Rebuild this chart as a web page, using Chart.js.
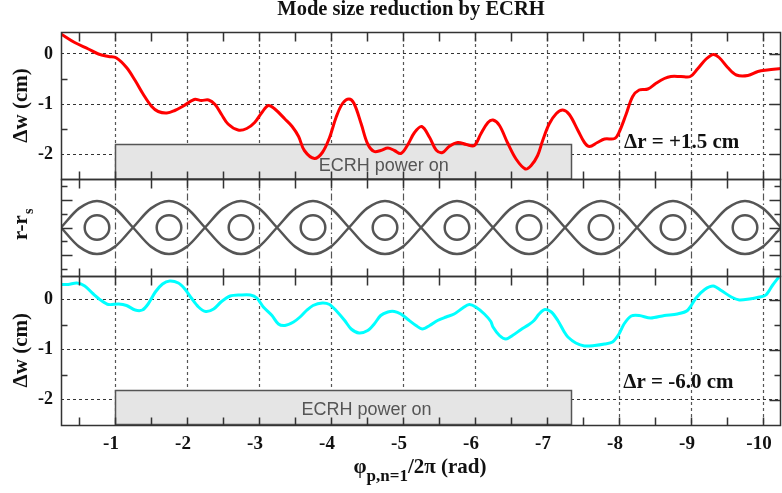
<!DOCTYPE html>
<html>
<head>
<meta charset="utf-8">
<title>Mode size reduction by ECRH</title>
<script src="https://cdn.jsdelivr.net/npm/chart.js@4.4.1/dist/chart.umd.min.js"></script>
<style>
  html, body { margin: 0; padding: 0; background: #fff; overflow: hidden; }
  #wrap { width: 782px; height: 493px; }
  canvas { display: block; }
</style>
</head>
<body>
<div id="wrap"><canvas id="chart" width="782" height="493"></canvas></div>
<script>
// toroidal phase (units of 2π) and island width change, Δr = +1.5 cm
const phaseTop = [-0.25, -0.44, -0.63, -0.77, -0.91, -1.02, -1.16, -1.28, -1.39, -1.51,
  -1.60, -1.72, -1.83, -1.95, -2.10, -2.20, -2.30, -2.39, -2.48, -2.57,
  -2.71, -2.83, -2.94, -3.04, -3.13, -3.22, -3.36, -3.46, -3.55, -3.63,
  -3.77, -3.88, -3.98, -4.07, -4.16, -4.25, -4.32, -4.42, -4.51, -4.60,
  -4.69, -4.79, -4.88, -4.97, -5.06, -5.16, -5.26, -5.37, -5.46, -5.55,
  -5.64, -5.76, -5.88, -5.99, -6.08, -6.18, -6.25, -6.34, -6.45, -6.57,
  -6.70, -6.78, -6.87, -6.94, -7.03, -7.13, -7.22, -7.31, -7.43, -7.52,
  -7.59, -7.70, -7.80, -7.94, -8.00, -8.10, -8.19, -8.28, -8.40, -8.51,
  -8.63, -8.72, -8.86, -8.99, -9.09, -9.21, -9.31, -9.39, -9.51, -9.63,
  -9.79, -9.93, -10.06, -10.25];
const dwTop = [0.40, 0.23, 0.10, 0.00, -0.05, -0.08, -0.27, -0.53, -0.80, -1.05,
  -1.15, -1.18, -1.13, -1.04, -0.91, -0.93, -0.92, -1.01, -1.21, -1.40,
  -1.52, -1.49, -1.37, -1.17, -1.03, -1.10, -1.30, -1.45, -1.65, -1.93,
  -2.09, -1.97, -1.67, -1.27, -0.99, -0.90, -0.99, -1.40, -1.80, -1.95,
  -1.93, -1.88, -1.93, -1.99, -1.83, -1.57, -1.45, -1.67, -1.92, -1.97,
  -1.85, -1.77, -1.81, -1.83, -1.60, -1.37, -1.32, -1.43, -1.77, -2.10,
  -2.30, -2.23, -2.03, -1.73, -1.40, -1.19, -1.12, -1.21, -1.53, -1.77,
  -1.85, -1.77, -1.70, -1.69, -1.57, -1.20, -0.85, -0.72, -0.70, -0.59,
  -0.49, -0.45, -0.45, -0.45, -0.30, -0.10, -0.01, -0.07, -0.27, -0.42,
  -0.43, -0.35, -0.32, -0.29];

// same for Δr = -6.0 cm
const phaseBottom = [-0.25, -0.35, -0.47, -0.58, -0.70, -0.81, -0.91, -1.05, -1.16, -1.28,
  -1.38, -1.46, -1.56, -1.66, -1.76, -1.88, -1.97, -2.06, -2.16, -2.26,
  -2.37, -2.48, -2.60, -2.74, -2.88, -2.97, -3.06, -3.18, -3.27, -3.36,
  -3.48, -3.57, -3.66, -3.75, -3.88, -3.98, -4.07, -4.19, -4.28, -4.39,
  -4.51, -4.60, -4.69, -4.79, -4.88, -4.97, -5.06, -5.18, -5.27, -5.37,
  -5.48, -5.60, -5.71, -5.83, -5.92, -6.01, -6.13, -6.22, -6.25, -6.34,
  -6.43, -6.52, -6.64, -6.75, -6.82, -6.89, -6.97, -7.06, -7.15, -7.24,
  -7.29, -7.40, -7.52, -7.66, -7.80, -7.91, -8.00, -8.07, -8.17, -8.28,
  -8.44, -8.63, -8.81, -8.95, -9.07, -9.19, -9.31, -9.42, -9.56, -9.67,
  -9.81, -9.95, -10.04, -10.13, -10.22];
const dwBottom = [0.30, 0.30, 0.33, 0.27, 0.11, -0.02, -0.10, -0.09, -0.12, -0.21,
  -0.21, -0.09, 0.15, 0.31, 0.37, 0.33, 0.21, 0.03, -0.15, -0.24,
  -0.19, -0.04, 0.07, 0.09, 0.09, 0.03, -0.15, -0.32, -0.49, -0.52,
  -0.45, -0.35, -0.22, -0.12, -0.07, -0.10, -0.22, -0.42, -0.59, -0.67,
  -0.62, -0.49, -0.32, -0.25, -0.24, -0.29, -0.39, -0.52, -0.59, -0.52,
  -0.42, -0.35, -0.29, -0.17, -0.10, -0.15, -0.29, -0.44, -0.55, -0.72,
  -0.79, -0.72, -0.60, -0.50, -0.42, -0.29, -0.20, -0.25, -0.42, -0.65,
  -0.75, -0.87, -0.93, -0.92, -0.89, -0.85, -0.69, -0.49, -0.33, -0.32,
  -0.37, -0.32, -0.29, -0.22, 0.03, 0.20, 0.27, 0.18, 0.05, -0.01,
  0.01, 0.05, 0.09, 0.28, 0.45];

// m/n island chain: separatrix branches and O-points
const sepPhase = [-0.25, -0.5, -0.75, -1, -1.25, -1.5, -1.75, -2, -2.25, -2.5,
  -2.75, -3, -3.25, -3.5, -3.75, -4, -4.25, -4.5, -4.75, -5,
  -5.25, -5.5, -5.75, -6, -6.25, -6.5, -6.75, -7, -7.25, -7.5,
  -7.75, -8, -8.25, -8.5, -8.75, -9, -9.25, -9.5, -9.75, -10, -10.25];
const sepUpper = [0, 1.38, 1.92, 1.38, 0, -1.38, -1.92, -1.38,
  0, 1.38, 1.92, 1.38, 0, -1.38, -1.92, -1.38,
  0, 1.38, 1.92, 1.38, 0, -1.38, -1.92, -1.38,
  0, 1.38, 1.92, 1.38, 0, -1.38, -1.92, -1.38,
  0, 1.38, 1.92, 1.38, 0, -1.38, -1.92, -1.38, 0];
const sepLower = [0, -1.38, -1.92, -1.38, 0, 1.38, 1.92, 1.38,
  0, -1.38, -1.92, -1.38, 0, 1.38, 1.92, 1.38,
  0, -1.38, -1.92, -1.38, 0, 1.38, 1.92, 1.38,
  0, -1.38, -1.92, -1.38, 0, 1.38, 1.92, 1.38,
  0, -1.38, -1.92, -1.38, 0, 1.38, 1.92, 1.38, 0];
const oPointPhase = [-0.75, -1.75, -2.75, -3.75, -4.75, -5.75, -6.75, -7.75, -8.75, -9.75];
const oPointR = [0, 0, 0, 0, 0, 0, 0, 0, 0, 0];

// ticks
const xTicks = [-1, -2, -3, -4, -5, -6, -7, -8, -9, -10];
const xTickLabels = ['-1', '-2', '-3', '-4', '-5', '-6', '-7', '-8', '-9', '-10'];
const xMinorTicks = [-0.5, -1.5, -2.5, -3.5, -4.5, -5.5, -6.5, -7.5, -8.5, -9.5];
const dwTicks = [0, -1, -2];
const dwTickLabels = ['0', '-1', '-2'];
const dwMinorTicks = [-0.5, -1.5];
const rrTicks = [-2, 0, 2];
const rrMinorTicks = [-3, -1, 1, 3];

// ECRH window and text placement
const ecrhWindow = [-1, -7.33];
const ecrhLevel = -1.8;
const ecrhText = [
  { axis: 'yTop', x: -3.83, y: -2.33 },
  { axis: 'yBot', x: -3.59, y: -2.3 }
];
const deltaLabels = [
  { axis: 'yTop', text: 'Δr = +1.5 cm', x: -8.07, y: -1.87 },
  { axis: 'yBot', text: 'Δr = -6.0 cm', x: -8.06, y: -1.76 }
];

const SERIF = '"Liberation Serif", "Times New Roman", serif';
const SANS = '"Liberation Sans", Arial, sans-serif';
const INK = '#111';
const FRAME = '#333';

const xy = (xs, ys) => xs.map((x, i) => ({ x, y: ys[i] }));

const panels = [
  { id: 'yTop', major: dwTicks, minor: dwMinorTicks, leftMajor: false },
  { id: 'yMid', major: rrTicks, minor: rrMinorTicks, leftMajor: true },
  { id: 'yBot', major: dwTicks, minor: dwMinorTicks, leftMajor: false }
];

const panelDecor = {
  id: 'panelDecor',
  beforeDatasetsDraw(chart) {
    const { ctx, scales } = chart;
    const x = scales.x;
    ctx.save();
    // vertical grid: dashed in the Δw panels, dash-dot across the islands
    panels.forEach(p => {
      const s = scales[p.id];
      ctx.setLineDash(p.id === 'yMid' ? [7, 3, 1.5, 3] : [3, 3]);
      ctx.strokeStyle = '#555';
      ctx.lineWidth = 1.2;
      ctx.beginPath();
      xTicks.forEach(v => {
        const px = Math.round(x.getPixelForValue(v)) + 0.5;
        ctx.moveTo(px, s.top);
        ctx.lineTo(px, s.bottom);
      });
      ctx.stroke();
    });
    ctx.setLineDash([]);

    // ECRH power window
    ecrhText.forEach(t => {
      const s = scales[t.axis];
      const x0 = Math.round(x.getPixelForValue(ecrhWindow[0])) + 0.5;
      const x1 = Math.round(x.getPixelForValue(ecrhWindow[1])) + 0.5;
      const y0 = Math.round(s.getPixelForValue(ecrhLevel)) + 0.5;
      const y1 = s.bottom;
      ctx.fillStyle = '#e5e5e5';
      ctx.fillRect(x0, y0, x1 - x0, y1 - y0);
      ctx.strokeStyle = '#555';
      ctx.lineWidth = 1.5;
      ctx.strokeRect(x0, y0, x1 - x0, y1 - y0);
      ctx.fillStyle = '#555';
      ctx.font = `18px ${SANS}`;
      ctx.textAlign = 'left';
      ctx.textBaseline = 'alphabetic';
      ctx.fillText('ECRH power on', x.getPixelForValue(t.x), s.getPixelForValue(t.y));
    });
    ctx.restore();
  },
  afterDatasetsDraw(chart) {
    const { ctx, chartArea: a, scales } = chart;
    const x = scales.x;
    const L = a.left + 0.5, R = a.right - 0.5;
    ctx.save();
    ctx.strokeStyle = FRAME;
    ctx.lineWidth = 1.5;
    panels.forEach(p => {
      const s = scales[p.id];
      const T = Math.round(s.top) + 0.5, B = Math.round(s.bottom) + 0.5;
      ctx.strokeRect(L, T, R - L, B - T);
      ctx.beginPath();
      // inward ticks along top and bottom edges
      xTicks.concat(xMinorTicks).forEach(v => {
        const px = Math.round(x.getPixelForValue(v)) + 0.5;
        ctx.moveTo(px, T); ctx.lineTo(px, T + 9);
        ctx.moveTo(px, B); ctx.lineTo(px, B - 8);
      });
      // inward ticks along the sides
      p.major.forEach(v => {
        const py = Math.round(s.getPixelForValue(v)) + 0.5;
        if (p.leftMajor) { ctx.moveTo(L, py); ctx.lineTo(L + 11, py); }
        ctx.moveTo(R, py); ctx.lineTo(R - 11, py);
      });
      p.minor.forEach(v => {
        const py = Math.round(s.getPixelForValue(v)) + 0.5;
        ctx.moveTo(L, py); ctx.lineTo(L + 6, py);
        ctx.moveTo(R, py); ctx.lineTo(R - 6, py);
      });
      ctx.stroke();
    });

    ctx.fillStyle = INK;
    ctx.font = `bold 21px ${SERIF}`;
    ctx.textAlign = 'left';
    ctx.textBaseline = 'alphabetic';
    deltaLabels.forEach(d => {
      const s = scales[d.axis];
      ctx.fillText(d.text, x.getPixelForValue(d.x), s.getPixelForValue(d.y));
    });
    ctx.restore();
  },
  afterDraw(chart) {
    const { ctx, scales } = chart;
    ctx.save();
    ctx.fillStyle = INK;

    ctx.font = `bold 20.5px ${SERIF}`;
    ctx.textAlign = 'center';
    ctx.textBaseline = 'alphabetic';
    ctx.fillText('Mode size reduction by ECRH', 411, 15);

    // rotated y titles
    const vtitle = (cy, draw) => {
      ctx.save();
      ctx.translate(22, cy);
      ctx.rotate(-Math.PI / 2);
      draw();
      ctx.restore();
    };
    ['yTop', 'yBot'].forEach(id => {
      const s = scales[id];
      vtitle((s.top + s.bottom) / 2, () => {
        ctx.font = `bold 21px ${SERIF}`;
        ctx.textAlign = 'center';
        ctx.textBaseline = 'middle';
        ctx.fillText('Δw (cm)', 0, 0);
      });
    });
    const mid = scales.yMid;
    vtitle((mid.top + mid.bottom) / 2, () => {
      ctx.font = `bold 21px ${SERIF}`;
      const w = ctx.measureText('r-r').width;
      ctx.textAlign = 'left';
      ctx.textBaseline = 'middle';
      ctx.fillText('r-r', -w / 2, 0);
      ctx.font = `bold 14px ${SERIF}`;
      ctx.fillText('s', w / 2 + 1, 7);
    });

    // x title with subscript
    const parts = [
      { t: 'φ', f: `bold 21px ${SERIF}`, dy: 0 },
      { t: 'p,n=1', f: `bold 17px ${SERIF}`, dy: 8 },
      { t: '/2π (rad)', f: `bold 21px ${SERIF}`, dy: 0 }
    ];
    let total = 0;
    parts.forEach(p => { ctx.font = p.f; p.w = ctx.measureText(p.t).width; total += p.w; });
    let px = 420 - total / 2;
    ctx.textAlign = 'left';
    ctx.textBaseline = 'alphabetic';
    parts.forEach(p => {
      ctx.font = p.f;
      ctx.fillText(p.t, px, 473 + p.dy);
      px += p.w;
    });
    ctx.restore();
  }
};

const dwAxis = (weight, max) => ({
  type: 'linear',
  position: 'left',
  stack: 'panels',
  stackWeight: weight,
  min: -2.5,
  max: max,
  afterBuildTicks: s => { s.ticks = dwTicks.map(v => ({ value: v })); },
  afterFit: s => { s.width = 61; s.paddingTop = 0; s.paddingBottom = 0; },
  grid: { color: '#333', lineWidth: 1, drawTicks: false },
  border: { display: false, dash: [3, 3] },
  ticks: {
    callback: (v, i) => dwTickLabels[i],
    color: INK,
    padding: 8,
    font: { family: SERIF, size: 18, weight: 'bold' }
  }
});

new Chart(document.getElementById('chart'), {
  type: 'line',
  data: {
    datasets: [
      {
        data: xy(phaseTop, dwTop), yAxisID: 'yTop',
        borderColor: '#ff0000', borderWidth: 3, pointRadius: 0, tension: 0.35
      },
      {
        data: xy(phaseBottom, dwBottom), yAxisID: 'yBot',
        borderColor: '#00ffff', borderWidth: 3, pointRadius: 0, tension: 0.3
      },
      {
        data: xy(sepPhase, sepUpper), yAxisID: 'yMid',
        borderColor: '#555', borderWidth: 2.5, pointRadius: 0, cubicInterpolationMode: 'monotone'
      },
      {
        data: xy(sepPhase, sepLower), yAxisID: 'yMid',
        borderColor: '#555', borderWidth: 2.5, pointRadius: 0, cubicInterpolationMode: 'monotone'
      },
      {
        data: xy(oPointPhase, oPointR), yAxisID: 'yMid', showLine: false,
        pointStyle: 'circle', pointRadius: 12.3, pointBorderWidth: 2.5,
        pointBorderColor: '#555', pointBackgroundColor: 'rgba(0,0,0,0)'
      }
    ]
  },
  options: {
    responsive: false,
    animation: false,
    devicePixelRatio: 1,
    layout: { autoPadding: false, padding: { top: 32, right: 1, left: 0, bottom: 0 } },
    plugins: { legend: { display: false }, tooltip: { enabled: false } },
    scales: {
      x: {
        type: 'linear',
        min: -10.25,
        max: -0.25,
        reverse: true,
        afterBuildTicks: s => { s.ticks = xTicks.map(v => ({ value: v })); },
        afterFit: s => { s.height = 68.5; s.paddingLeft = 0; s.paddingRight = 0; },
        grid: { display: false, drawTicks: false },
        border: { display: false },
        ticks: {
          callback: (v, i) => xTickLabels[i],
          color: INK,
          padding: 8,
          labelOffset: -4,
          maxRotation: 0,
          autoSkip: false,
          font: { family: SERIF, size: 19, weight: 'bold' }
        }
      },
      yBot: dwAxis(148.5, 0.47),
      yMid: {
        type: 'linear',
        position: 'left',
        stack: 'panels',
        stackWeight: 97,
        min: -3.5,
        max: 3.5,
        afterFit: s => { s.width = 61; },
        grid: { display: false },
        border: { display: false },
        ticks: { display: false }
      },
      yTop: dwAxis(147, 0.44)
    }
  },
  plugins: [panelDecor]
});
</script>
</body>
</html>
